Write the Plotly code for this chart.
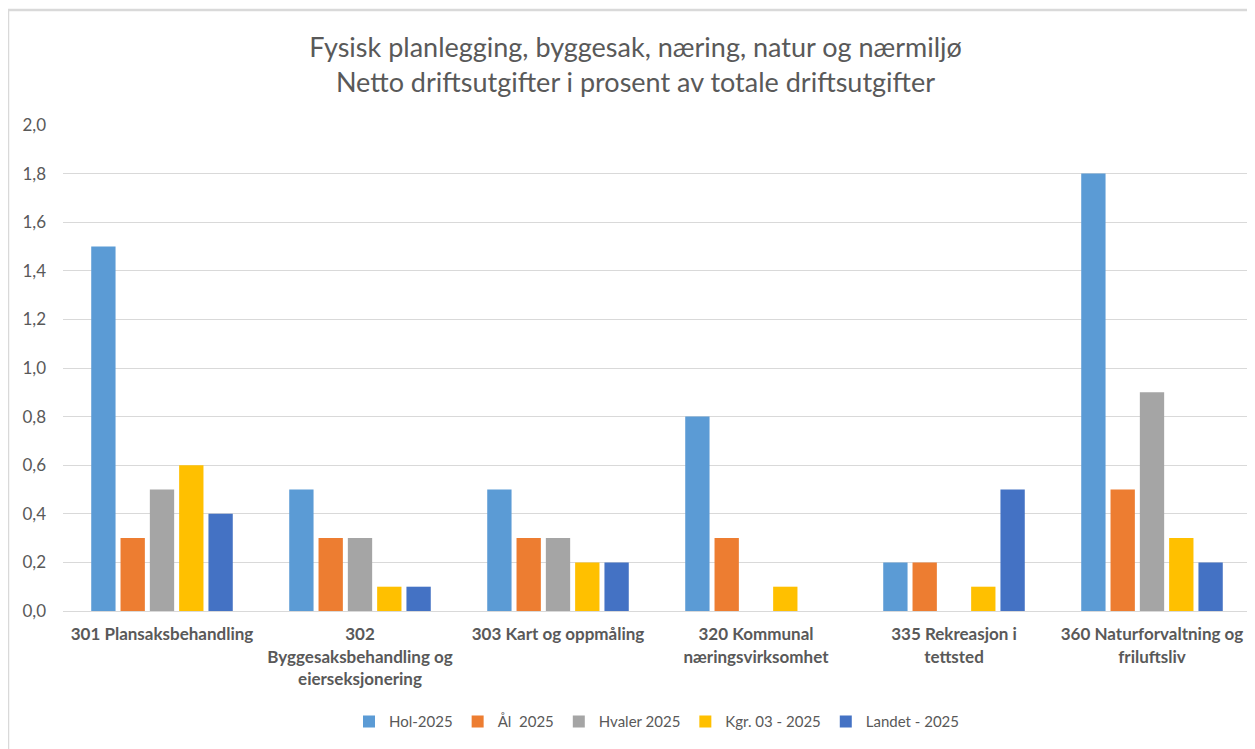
import plotly.graph_objects as go

categories = [
    "301 Plansaksbehandling",
    "302<br>Byggesaksbehandling og<br>eierseksjonering",
    "303 Kart og oppmåling",
    "320 Kommunal<br>næringsvirksomhet",
    "335 Rekreasjon i<br>tettsted",
    "360 Naturforvaltning og<br>friluftsliv",
]
hol = [1.5, 0.5, 0.5, 0.8, 0.2, 1.8]
aal = [0.3, 0.3, 0.3, 0.3, 0.2, 0.5]
hvaler = [0.5, 0.3, 0.3, None, None, 0.9]
kgr = [0.6, 0.1, 0.2, 0.1, 0.1, 0.3]
landet = [0.4, 0.1, 0.2, None, 0.5, 0.2]

series = [
    ("Hol-2025", hol, "#5B9BD5"),
    ("Ål  2025", aal, "#ED7D31"),
    ("Hvaler 2025", hvaler, "#A5A5A5"),
    ("Kgr. 03 - 2025", kgr, "#FFC000"),
    ("Landet - 2025", landet, "#4472C4"),
]

font_family = "Lato, 'Open Sans', sans-serif"

fig = go.Figure()
for name, vals, color in series:
    fig.add_trace(go.Bar(x=categories, y=vals, name=name, marker_color=color,
                         marker_line_width=0))

fig.update_layout(
    width=1255, height=749,
    paper_bgcolor="white", plot_bgcolor="white",
    margin=dict(l=55, r=12, t=117, b=146),
    barmode="group", bargap=0.26, bargroupgap=0.17,
    separators=", ",
    font=dict(family=font_family, color="#595959"),
    title=dict(
        text="Fysisk planlegging, byggesak, næring, natur og nærmiljø<br>Netto driftsutgifter i prosent av totale driftsutgifter",
        x=0.5, xanchor="center", y=0.935, yanchor="top",
        font=dict(size=27, color="#595959", family=font_family),
    ),
    legend=dict(orientation="h", x=0.5, xanchor="center", y=-0.228, yanchor="middle",
                font=dict(size=15, color="#595959"), itemwidth=30, traceorder="normal"),
    xaxis=dict(showgrid=False, showline=True, linecolor="#D9D9D9", linewidth=1,
               tickfont=dict(size=17, color="#595959", family=font_family, weight="bold"),
               ticks="", ticklabelstandoff=8),
    yaxis=dict(range=[0, 2.0], dtick=0.2, tickformat=".1f", showgrid=True,
               gridcolor="#D9D9D9", gridwidth=1, zeroline=False, showline=False,
               tickfont=dict(size=17, color="#595959"), ticks="", ticklabelstandoff=16),
    shapes=[
        dict(type="line", xref="paper", yref="paper", x0=-55 / 1188, x1=-55 / 1188,
             y0=-0.4, y1=1 + 115 / 486, line=dict(color="#D9D9D9", width=2.5)),
        dict(type="line", xref="paper", yref="paper", x0=-55 / 1188, x1=1.1,
             y0=1 + 115 / 486, y1=1 + 115 / 486, line=dict(color="#D9D9D9", width=2.5)),
    ],
)

fig.write_html("out.html")
